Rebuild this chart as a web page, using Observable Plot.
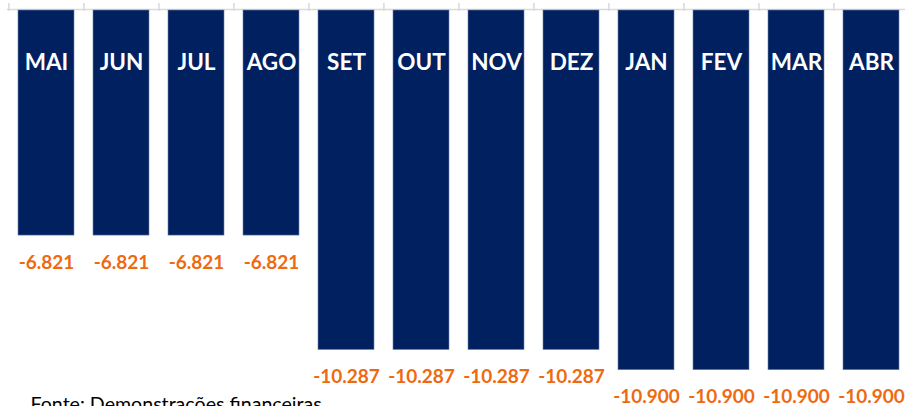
<!DOCTYPE html>
<html>
<head>
<meta charset="utf-8">
<script src="https://cdn.jsdelivr.net/npm/d3@7"></script>
<script src="https://cdn.jsdelivr.net/npm/@observablehq/plot@0.6"></script>
<style>
  html, body { margin: 0; padding: 0; background: #fff; }
  #chart { width: 905px; height: 406px; overflow: hidden; }
</style>
</head>
<body>
<div id="chart"></div>
<script>
const months = ["MAI","JUN","JUL","AGO","SET","OUT","NOV","DEZ","JAN","FEV","MAR","ABR"];
const values = [-6821,-6821,-6821,-6821,-10287,-10287,-10287,-10287,-10900,-10900,-10900,-10900];
const caption = "Fonte: Demonstrações financeiras";

const data = months.map((m, i) => ({month: m, value: values[i]}));
const fmt = d3.formatLocale({decimal: ",", thousands: ".", grouping: [3], currency: ["R$", ""], minus: "-"}).format(",d");

const xRange = [7.4, 909.6];
const step = (xRange[1] - xRange[0]) / months.length;
const navy = "#002060";
const orange = "#EE6A10";
const font = "Lato, 'Open Sans', sans-serif";

const chart = Plot.plot({
  width: 905,
  height: 406,
  marginTop: 10,
  marginBottom: 0,
  marginLeft: 7,
  marginRight: 0,
  style: {fontFamily: font, background: "#fff", overflow: "visible"},
  x: {type: "band", domain: months, range: xRange, paddingInner: 0.255, paddingOuter: 0.1277, axis: null, label: null},
  y: {domain: [-12000, 0], axis: null},
  marks: [
    Plot.ruleY([0], {stroke: "#d9d9d9", strokeWidth: 1.5, dy: -1}),
    Plot.axisX({ticks: months, tickSize: 8, tickFormat: () => "", label: null, stroke: "#d9d9d9", strokeWidth: 1.5, dx: -step / 2, anchor: "top", tickPadding: 0}),
    Plot.barY(data, {x: "month", y: "value", fill: navy, stroke: "#6f84a8", strokeWidth: 0.6}),
    Plot.text(data, {x: "month", y: () => 0, text: "month", dy: 52, fill: "#fff", fontSize: 22.5, fontWeight: "bold"}),
    Plot.text(data, {x: "month", y: "value", text: d => fmt(d.value), dy: 27, fill: orange, fontSize: 19, fontWeight: "bold"}),
    Plot.text([caption], {frameAnchor: "bottom-left", text: d => d, dx: 23, dy: -9, textAnchor: "start", lineAnchor: "top", fill: "#000", fontSize: 19.6})
  ]
});
document.getElementById("chart").appendChild(chart);
</script>
</body>
</html>
